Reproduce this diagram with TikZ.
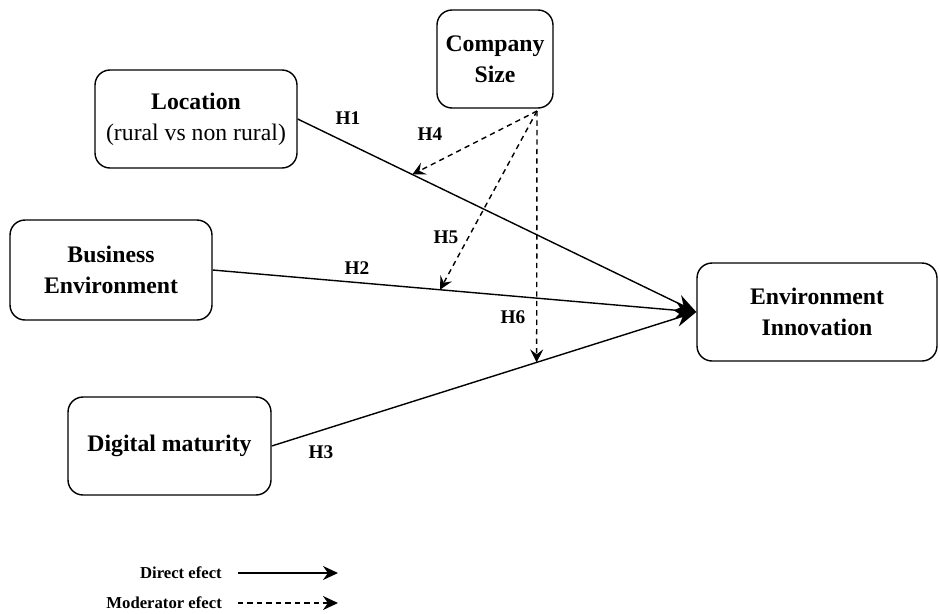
\documentclass[tikz,border=0pt]{standalone}
\usepackage{fontspec}
\setmainfont{Liberation Serif}
\usepackage{tikz}
\usetikzlibrary{arrows.meta}

\begin{document}
\begin{tikzpicture}[x=0.02cm, y=-0.02cm,
    construct/.style={draw, rounded corners=0.3cm, line width=0.8pt, align=center,
      font=\fontsize{13.5}{17.5}\selectfont\bfseries, inner sep=0pt},
    direct/.style={line width=0.8pt, -{Stealth[length=0.42cm, width=0.34cm]}},
    moder/.style={line width=0.8pt, dash pattern=on 3pt off 2.4pt, -{Stealth[length=0.26cm, width=0.26cm, inset=0.1cm]}},
    hyp/.style={font=\fontsize{11}{13}\selectfont\bfseries},
    legtext/.style={font=\fontsize{9.5}{11}\selectfont\bfseries, anchor=east}]
  \useasboundingbox (0,0) rectangle (940,613);

  % constructs
  \node[construct, minimum width=2.32cm, minimum height=1.96cm] (size) at (495,59) {Company\\Size};
  \node[construct, minimum width=4.04cm, minimum height=1.96cm] (loc) at (196,119)
    {Location\\\mdseries(rural vs non rural)};
  \node[construct, minimum width=4.04cm, minimum height=2.0cm] (bus) at (111,270) {Business\\Environment};
  \node[construct, minimum width=4.06cm, minimum height=1.96cm] (dig) at (169.5,446) {Digital maturity};
  \node[construct, minimum width=4.8cm, minimum height=1.96cm] (inno) at (817,312) {Environment\\Innovation};

  % direct effects
  \draw[direct] (loc.east) -- coordinate[pos=0.2875] (t4) (inno.west);
  \draw[direct] (bus.east) -- coordinate[pos=0.47] (t5) (inno.west);
  \draw[direct] (dig.east) -- coordinate[pos=0.624] (t6) (inno.west);

  % moderating effects
  \coordinate (m) at (537,111);
  \draw[moder] (m) -- (t4);
  \draw[moder] (m) -- (t5);
  \draw[moder] (m) -- (t6);

  \node[hyp] (h1) at (348,118) {H1};
  \node[hyp] (h4) at (430,134) {H4};
  \node[hyp] (h5) at (446,237) {H5};
  \node[hyp] (h2) at (357,268) {H2};
  \node[hyp] (h6) at (513,317) {H6};
  \node[hyp] (h3) at (321,452) {H3};

  % legend
  \node[legtext] (ld) at (228,573) {Direct efect};
  \node[legtext] (lm) at (228,603) {Moderator efect};
  \coordinate (ld1) at (338,573);
  \coordinate (lm1) at (338,603);
  \draw[line width=0.8pt, -{Stealth[length=0.3cm, width=0.28cm]}] (ld.east) ++(10,0) -- (ld1);
  \draw[line width=0.8pt, dash pattern=on 3pt off 2.4pt, -{Stealth[length=0.3cm, width=0.28cm]}] (lm.east) ++(10,0) -- (lm1);
\end{tikzpicture}
\end{document}
